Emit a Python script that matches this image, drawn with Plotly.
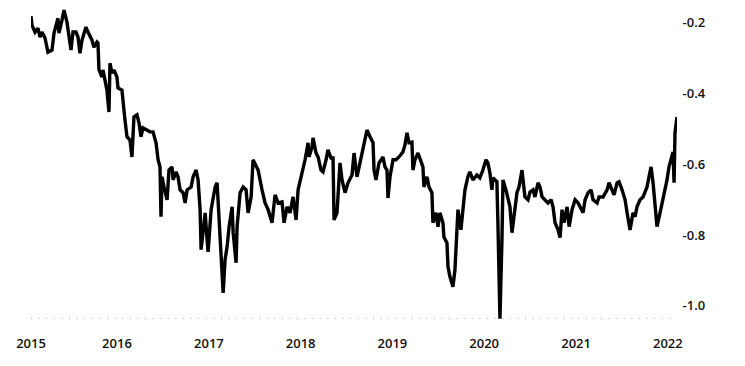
import datetime as dt
import plotly.graph_objects as go

# decimal-year time stamps and values
years = [
    2015.063, 2015.074, 2015.107, 2015.139, 2015.161, 2015.183, 2015.216, 2015.248, 2015.292, 2015.314,
    2015.357, 2015.368, 2015.401, 2015.423, 2015.455, 2015.477, 2015.499, 2015.521, 2015.553, 2015.575,
    2015.597, 2015.619, 2015.662, 2015.684, 2015.706, 2015.728, 2015.749, 2015.782, 2015.793, 2015.804,
    2015.837, 2015.847, 2015.891, 2015.913, 2015.924, 2015.946, 2015.967, 2016.000, 2016.011, 2016.054,
    2016.087, 2016.109, 2016.142, 2016.163, 2016.185, 2016.218, 2016.240, 2016.261, 2016.283, 2016.327,
    2016.359, 2016.392, 2016.425, 2016.447, 2016.468, 2016.479, 2016.490, 2016.512, 2016.545, 2016.566,
    2016.599, 2016.610, 2016.643, 2016.664, 2016.686, 2016.719, 2016.741, 2016.763, 2016.806, 2016.828,
    2016.861, 2016.882, 2016.904, 2016.915, 2016.937, 2016.959, 2016.980, 2016.991, 2017.024, 2017.046,
    2017.068, 2017.089, 2017.100, 2017.122, 2017.144, 2017.155, 2017.176, 2017.198, 2017.220, 2017.253,
    2017.264, 2017.296, 2017.307, 2017.340, 2017.373, 2017.405, 2017.427, 2017.460, 2017.481, 2017.514,
    2017.536, 2017.579, 2017.612, 2017.645, 2017.688, 2017.721, 2017.754, 2017.797, 2017.819, 2017.852,
    2017.884, 2017.917, 2017.950, 2017.972, 2018.004, 2018.026, 2018.048, 2018.081, 2018.091, 2018.124,
    2018.135, 2018.168, 2018.190, 2018.222, 2018.244, 2018.277, 2018.298, 2018.331, 2018.353, 2018.364,
    2018.396, 2018.429, 2018.451, 2018.484, 2018.516, 2018.560, 2018.582, 2018.614, 2018.647, 2018.680,
    2018.723, 2018.756, 2018.789, 2018.800, 2018.821, 2018.854, 2018.898, 2018.919, 2018.941, 2018.952,
    2018.974, 2019.007, 2019.039, 2019.072, 2019.115, 2019.137, 2019.159, 2019.181, 2019.213, 2019.224,
    2019.246, 2019.279, 2019.301, 2019.333, 2019.344, 2019.377, 2019.399, 2019.431, 2019.442, 2019.475,
    2019.497, 2019.518, 2019.551, 2019.562, 2019.595, 2019.606, 2019.627, 2019.660, 2019.682, 2019.704,
    2019.715, 2019.747, 2019.769, 2019.791, 2019.823, 2019.845, 2019.878, 2019.921, 2019.954, 2019.987,
    2020.020, 2020.041, 2020.063, 2020.085, 2020.096, 2020.139, 2020.150, 2020.172, 2020.194, 2020.205,
    2020.237, 2020.259, 2020.281, 2020.303, 2020.325, 2020.357, 2020.379, 2020.412, 2020.423, 2020.444,
    2020.477, 2020.499, 2020.532, 2020.553, 2020.586, 2020.608, 2020.630, 2020.662, 2020.695, 2020.728,
    2020.749, 2020.771, 2020.804, 2020.826, 2020.847, 2020.869, 2020.902, 2020.924, 2020.956, 2020.989,
    2021.022, 2021.043, 2021.076, 2021.098, 2021.131, 2021.163, 2021.185, 2021.229, 2021.250, 2021.294,
    2021.338, 2021.359, 2021.392, 2021.414, 2021.447, 2021.468, 2021.501, 2021.534, 2021.556, 2021.588,
    2021.621, 2021.643, 2021.664, 2021.697, 2021.730, 2021.773, 2021.795, 2021.817, 2021.839, 2021.861,
    2021.882, 2021.915, 2021.948, 2021.969, 2021.991, 2022.013, 2022.046, 2022.057, 2022.068, 2022.078,
    2022.100,
]

values = [
    -0.181, -0.207, -0.226, -0.215, -0.240, -0.226, -0.243, -0.283, -0.277, -0.229,
    -0.187, -0.229, -0.192, -0.164, -0.198, -0.240, -0.277, -0.226, -0.226, -0.240,
    -0.286, -0.249, -0.212, -0.226, -0.240, -0.249, -0.269, -0.254, -0.257, -0.333,
    -0.353, -0.333, -0.390, -0.452, -0.314, -0.342, -0.333, -0.353, -0.384, -0.390,
    -0.474, -0.522, -0.531, -0.579, -0.466, -0.460, -0.483, -0.522, -0.497, -0.503,
    -0.508, -0.508, -0.539, -0.587, -0.607, -0.748, -0.635, -0.664, -0.700, -0.616,
    -0.607, -0.644, -0.621, -0.635, -0.672, -0.680, -0.709, -0.672, -0.664, -0.635,
    -0.616, -0.644, -0.728, -0.841, -0.776, -0.737, -0.813, -0.847, -0.728, -0.700,
    -0.664, -0.652, -0.700, -0.793, -0.889, -0.963, -0.869, -0.833, -0.776, -0.720,
    -0.793, -0.878, -0.776, -0.680, -0.664, -0.672, -0.737, -0.692, -0.587, -0.607,
    -0.616, -0.672, -0.709, -0.728, -0.765, -0.686, -0.709, -0.706, -0.765, -0.720,
    -0.737, -0.692, -0.757, -0.672, -0.635, -0.616, -0.587, -0.539, -0.579, -0.551,
    -0.525, -0.568, -0.579, -0.616, -0.621, -0.587, -0.559, -0.582, -0.582, -0.757,
    -0.737, -0.596, -0.644, -0.680, -0.652, -0.630, -0.568, -0.635, -0.596, -0.551,
    -0.503, -0.522, -0.539, -0.616, -0.644, -0.596, -0.579, -0.607, -0.616, -0.695,
    -0.635, -0.587, -0.587, -0.579, -0.565, -0.545, -0.511, -0.539, -0.537, -0.616,
    -0.587, -0.568, -0.587, -0.607, -0.664, -0.635, -0.664, -0.680, -0.765, -0.737,
    -0.776, -0.737, -0.765, -0.805, -0.822, -0.889, -0.917, -0.946, -0.898, -0.776,
    -0.728, -0.785, -0.728, -0.672, -0.635, -0.621, -0.644, -0.630, -0.638, -0.616,
    -0.587, -0.596, -0.624, -0.672, -0.638, -0.649, -0.765, -1.036, -0.813, -0.644,
    -0.672, -0.700, -0.720, -0.793, -0.748, -0.680, -0.664, -0.616, -0.644, -0.692,
    -0.700, -0.678, -0.672, -0.692, -0.652, -0.664, -0.692, -0.700, -0.709, -0.700,
    -0.720, -0.765, -0.785, -0.807, -0.728, -0.765, -0.720, -0.776, -0.728, -0.700,
    -0.709, -0.720, -0.737, -0.700, -0.680, -0.672, -0.700, -0.709, -0.692, -0.692,
    -0.672, -0.652, -0.672, -0.686, -0.652, -0.649, -0.672, -0.700, -0.737, -0.785,
    -0.737, -0.748, -0.720, -0.700, -0.692, -0.664, -0.635, -0.607, -0.652, -0.728,
    -0.776, -0.737, -0.700, -0.672, -0.644, -0.607, -0.579, -0.565, -0.652, -0.511,
    -0.466,
]

x_tick_labels = ["2015", "2016", "2017", "2018", "2019", "2020", "2021", "2022"]
y_tick_vals = [-1.0, -0.8, -0.6, -0.4, -0.2]
y_tick_labels = ["-1.0", "-0.8", "-0.6", "-0.4", "-0.2"]
y_min, y_max = -1.037, -0.158


def to_date(t):
    y = int(t)
    start = dt.datetime(y, 1, 1)
    days = (dt.datetime(y + 1, 1, 1) - start).days
    return start + dt.timedelta(days=(t - y) * days)


dates = [to_date(t) for t in years]
tick_dates = [dates[0]] + [dt.datetime(int(s), 1, 1) for s in x_tick_labels[1:]]

font = dict(family="Open Sans", size=13, color="#111111", weight=600)

fig = go.Figure()
fig.add_trace(go.Scatter(
    x=dates, y=values, mode="lines",
    line=dict(color="#000000", width=3.4),
    hoverinfo="skip", showlegend=False,
))

fig.add_shape(
    type="line", xref="paper", yref="y",
    x0=0, x1=1, y0=y_min, y1=y_min,
    line=dict(color="#555555", width=1, dash="1px,6.6px"),
    layer="below",
)

fig.update_layout(
    width=745, height=366,
    margin=dict(l=31, r=68, t=8, b=47),
    paper_bgcolor="white", plot_bgcolor="white",
    font=font,
    xaxis=dict(
        type="date", range=[dates[0], dates[-1]],
        tickvals=tick_dates, ticktext=x_tick_labels,
        showgrid=False, zeroline=False, showline=False,
        ticks="outside", ticklen=12, tickcolor="rgba(0,0,0,0)",
        tickfont=font,
    ),
    yaxis=dict(
        side="right", range=[y_min, y_max],
        tickvals=y_tick_vals, ticktext=y_tick_labels,
        showgrid=False, zeroline=False, showline=False,
        ticks="outside", ticklen=2, tickcolor="rgba(0,0,0,0)",
        tickfont=font,
    ),
)

fig.write_html("out.html")
